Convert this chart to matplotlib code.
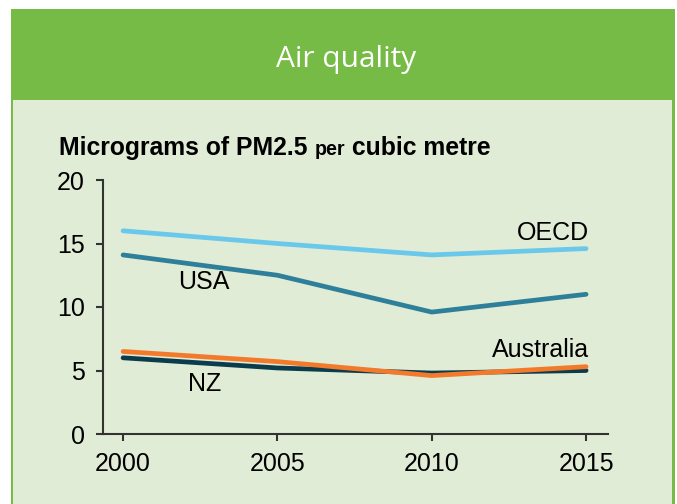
import matplotlib
matplotlib.use("Agg")
import matplotlib.pyplot as plt
from matplotlib.patches import Rectangle

years = [2000, 2005, 2010, 2015]
oecd = [16.0, 15.0, 14.1, 14.6]
usa = [14.1, 12.5, 9.6, 11.0]
australia = [6.5, 5.7, 4.6, 5.3]
nz = [6.0, 5.2, 4.8, 5.0]
y_ticks = [0, 5, 10, 15, 20]
x_ticks = [2000, 2005, 2010, 2015]

W, H = 677, 504
fig = plt.figure(figsize=(W / 100, H / 100), dpi=100)
fig.patch.set_facecolor("white")


def px(x0, y0, x1, y1):
    """Pixel box (top-left origin) to figure fraction rectangle args."""
    return (x0 / W, 1 - y1 / H), (x1 - x0) / W, (y1 - y0) / H


GREEN = "#76bb45"
PANEL = "#e0ecd5"

# header band and panel with green frame
xy, w, h = px(11, 9, 675, 504)
fig.add_artist(Rectangle(xy, w, h, transform=fig.transFigure, facecolor=GREEN, edgecolor="none", zorder=0))
xy, w, h = px(13, 100, 672, 504)
fig.add_artist(Rectangle(xy, w, h, transform=fig.transFigure, facecolor=PANEL, edgecolor="none", zorder=0))

fig.text(346 / W, 1 - 59 / H, "Air quality", color="white", fontsize=21.5,
         family="Open Sans", ha="center", va="center")

# subtitle with a smaller "per"
renderer = fig.canvas.get_renderer()
x = 59 / W
yb = 1 - 155 / H
parts = [("Micrograms of PM2.5 ", 17.8), ("per", 14.2), (" cubic metre", 17.8)]
for s, fs in parts:
    t = fig.text(x, yb, s, fontsize=fs, fontweight="bold", family="Liberation Sans",
                 ha="left", va="baseline", color="black")
    bb = t.get_window_extent(renderer=renderer)
    x += bb.width / W

ax = fig.add_axes([103 / W, (H - 434) / H, (608 - 103) / W, (434 - 180) / H])
ax.set_facecolor("none")
ax.set_xlim(1999.35, 2015.71)
ax.set_ylim(0, 20)

lw = 3.4
ax.plot(years, oecd, color="#6ac8ea", lw=lw, solid_capstyle="round")
ax.plot(years, usa, color="#2e7f9a", lw=lw, solid_capstyle="round")
ax.plot(years, nz, color="#0b3c4c", lw=lw, solid_capstyle="round")
ax.plot(years, australia, color="#f47a2b", lw=lw, solid_capstyle="round")

lab = dict(fontsize=18, family="Liberation Sans", color="black")
ax.text(2015.1, 15.3, "OECD", ha="right", va="baseline", **lab)
ax.text(2002.62, 11.97, "USA", ha="center", va="center", **lab)
ax.text(2015.1, 6.06, "Australia", ha="right", va="baseline", **lab)
ax.text(2002.65, 3.94, "NZ", ha="center", va="center", **lab)

for s in ["top", "right"]:
    ax.spines[s].set_visible(False)
for s in ["left", "bottom"]:
    ax.spines[s].set_color("#333333")
    ax.spines[s].set_linewidth(1.5)

ax.set_xticks(x_ticks)
ax.set_yticks(y_ticks)
ax.tick_params(axis="both", direction="out", length=5, width=1.5, color="#333333",
               labelsize=18)
ax.tick_params(axis="y", pad=8)
ax.tick_params(axis="x", pad=8)
for t in ax.get_xticklabels() + ax.get_yticklabels():
    t.set_family("Liberation Sans")

fig.savefig("out.png", dpi=100, facecolor=fig.get_facecolor())
